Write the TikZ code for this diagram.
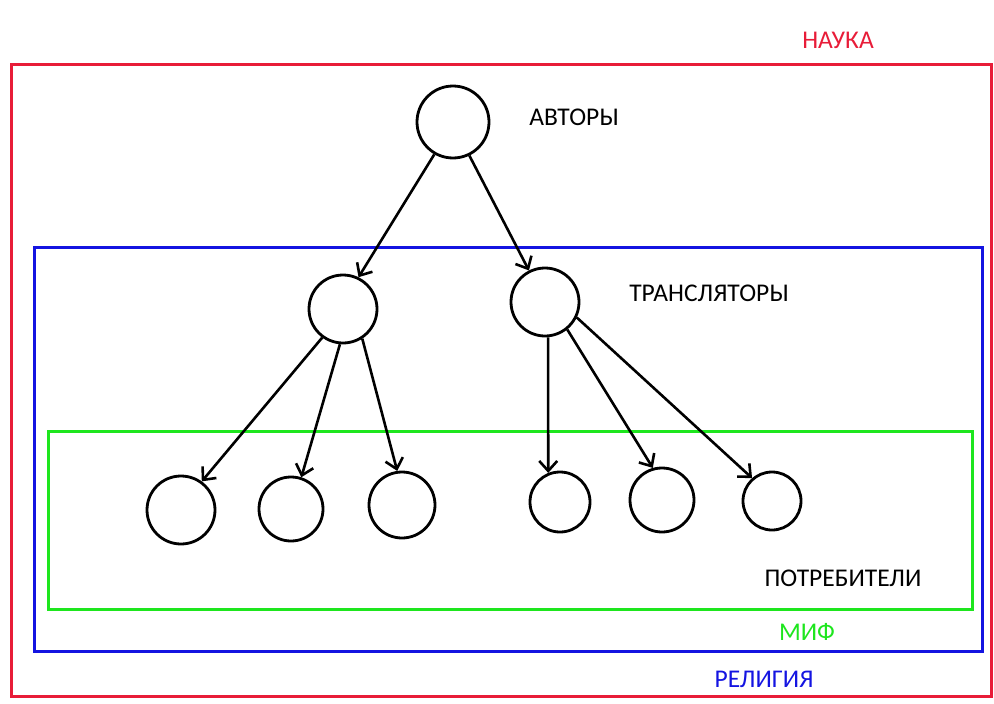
\documentclass[tikz,border=0pt]{standalone}
\usepackage{fontspec}
\setmainfont{Carlito}
\usetikzlibrary{arrows.meta}
\definecolor{cred}{RGB}{232,28,56}
\definecolor{cblue}{RGB}{20,20,225}
\definecolor{cgreen}{RGB}{30,230,30}
\begin{document}
\begin{tikzpicture}[x=1pt,y=-1pt,
  circ/.style={draw=black,circle,line width=2.8pt,inner sep=0pt},
  conn/.style={draw=black,line width=2.6pt,-{Straight Barb[length=10pt,width=18pt,line width=2.6pt]}},
  lbl/.style={font=\fontsize{25.5}{30}\selectfont},
  frame/.style={line width=3pt}]
\useasboundingbox (0,0) rectangle (994,704);
\draw[frame,cred] (11,64) rectangle (991,696);
\draw[frame,cblue] (34,247) rectangle (982,651);
\draw[frame,cgreen] (48,431) rectangle (972,609);
\node[circ,minimum size=72pt] (top) at (453,122) {};
\node[circ,minimum size=68pt] (ml) at (343,309) {};
\node[circ,minimum size=68pt] (mr) at (545,302) {};
\node[circ,minimum size=68pt] (b1) at (181,510) {};
\node[circ,minimum size=64pt] (b2) at (291,509) {};
\node[circ,minimum size=66pt] (b3) at (402,505) {};
\node[circ,minimum size=60pt] (b4) at (560,502) {};
\node[circ,minimum size=64pt] (b5) at (662,500) {};
\node[circ,minimum size=58pt] (b6) at (772,501) {};
\draw[conn] (top.240) -- (ml.64);
\draw[conn] (top.296) -- (mr.117);
\draw[conn] (ml.234) -- (b1.54);
\draw[conn] (ml.265) -- (b2.72);
\draw[conn] (ml.303) -- (b3.98);
\draw[conn] (mr.275) -- (b4.112);
\draw[conn] (mr.309) -- (b5.106);
\draw[conn] (mr.334) -- (b6.131);
\node[lbl] (tauth) at (574,117) {АВТОРЫ};
\node[lbl] (ttrans) at (709,293) {ТРАНСЛЯТОРЫ};
\node[lbl] (tcons) at (843,578) {ПОТРЕБИТЕЛИ};
\node[lbl,text=cred] (tsci) at (838,40) {НАУКА};
\node[lbl,text=cgreen] (tmyth) at (807,632) {МИФ};
\node[lbl,text=cblue] (trel) at (764,679) {РЕЛИГИЯ};
\end{tikzpicture}
\end{document}
